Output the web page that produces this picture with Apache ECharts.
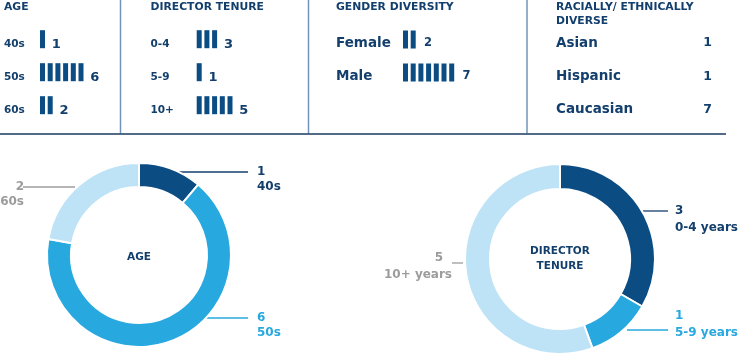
<!DOCTYPE html>
<html><head><meta charset="utf-8">
<script src="https://cdn.jsdelivr.net/npm/echarts@6/dist/echarts.min.js"></script>
<style>html,body{margin:0;padding:0;background:#fff}#c{width:740px;height:356px}</style>
</head><body><div id="c"></div>
<script>
// ---- data ----
const panelTitles = ['AGE', 'DIRECTOR TENURE', 'GENDER DIVERSITY', 'RACIALLY/ ETHNICALLY\nDIVERSE'];
const ageCats = ['40s', '50s', '60s'];
const ageValues = [1, 6, 2];
const tenureCats = ['0-4', '5-9', '10+'];
const tenureValues = [3, 1, 5];
const tenureLabels = ['0-4 years', '5-9 years', '10+ years'];
const genderCats = ['Female', 'Male'];
const genderValues = [2, 7];
const raceCats = ['Asian', 'Hispanic', 'Caucasian'];
const raceValues = [1, 1, 7];
const donutTitles = ['AGE', 'DIRECTOR\nTENURE'];

// ---- styles ----
const FONT = 'DejaVu Sans';
const NAVY = '#0b4c83';
const TEXT = '#133f6c';
const MID = '#27a8df';
const LIGHT = '#bee3f6';
const GRAY = '#9c9c9c';
const sliceColors = [NAVY, MID, LIGHT];
const labelColors = [TEXT, MID, GRAY];

const UNIT = 7.7, MAXU = 10;

const grids = [
  { left: 38.65, top: 28, width: UNIT * MAXU, height: 99 },
  { left: 195.35, top: 28, width: UNIT * MAXU, height: 99 },
  { left: 401.65, top: 26.5, width: UNIT * MAXU, height: 66 },
  { left: 556, top: 26.5, width: 156, height: 100 }
];
const labelLefts = [4, 150.5, 336, 556];

function catAxis(gi, cats, fs, extra) {
  return Object.assign({
    type: 'category', gridIndex: gi, data: cats, inverse: true,
    axisLine: { show: false }, axisTick: { show: false }, splitLine: { show: false },
    axisLabel: { align: 'left', margin: grids[gi].left - labelLefts[gi], fontFamily: FONT, fontWeight: 'bold', fontSize: fs, color: TEXT }
  }, extra || {});
}
function valAxis(gi) {
  return { type: 'value', gridIndex: gi, min: 0, max: MAXU, show: false };
}
function tally(gi, vals, offY, fs, dist) {
  return {
    type: 'pictorialBar', xAxisIndex: gi, yAxisIndex: gi, silent: true, animation: false,
    symbol: 'rect', symbolSize: [5, 18], symbolOffset: [0, offY], symbolMargin: '0!',
    symbolPosition: 'start', barCategoryGap: '0%',
    itemStyle: { color: NAVY },
    data: vals.map(v => ({ value: v, symbolRepeat: v, symbolBoundingData: v })),
    label: { show: true, position: 'right', distance: dist, fontFamily: FONT, fontWeight: 'bold', fontSize: fs, color: TEXT }
  };
}

function donut(center, radius, names, vals, layoutFn, fs, lh, firstPad) {
  return {
    type: 'pie', center: center, radius: radius, startAngle: 90, clockwise: true,
    silent: true, animation: false, emphasis: { disabled: true },
    itemStyle: { borderColor: '#fff', borderWidth: 2 },
    data: names.map((n, i) => ({
      name: n, value: vals[i],
      itemStyle: { color: sliceColors[i] },
      label: { color: labelColors[i], rich: { v: { fontFamily: FONT, fontWeight: 'bold', fontSize: fs, lineHeight: lh, color: labelColors[i], padding: firstPad[i] }, n: { fontFamily: FONT, fontWeight: 'bold', fontSize: fs, lineHeight: lh, color: labelColors[i] } } },
      labelLine: { lineStyle: { color: labelColors[i] } }
    })),
    label: { show: true, position: 'outside', overflow: 'none', formatter: '{v|{c}}\n{n|{b}}' },
    labelLine: { show: true, lineStyle: { width: 1.3 } },
    labelLayout: layoutFn
  };
}

// label anchor geometry relative to donut centre: [startDx, startDy, endDx, textDx, firstLineDy, align]
const ageC = [139, 255];
const ageAnch = [
  [38, -83, 109, 118, -83, 'left'],
  [64, 63, 109, 118, 63, 'left'],
  [-64, -68, -116, -115, -68, 'right']
];
const tenC = [560, 259];
const tenAnch = [
  [83, -48, 108, 115, -48, 'left'],
  [67, 71, 108, 115, 57, 'left'],
  [-97, 4, -108, -108, -1, 'right']
];
function mkLayout(c, anch, lh) {
  return function (p) {
    const a = anch[p.dataIndex];
    const sx = c[0] + a[0], sy = c[1] + a[1], ex = c[0] + a[2];
    return {
      x: c[0] + a[3], y: c[1] + a[4] - lh / 2, align: a[5], verticalAlign: 'top',
      labelLinePoints: [[sx, sy], [ex, sy], [ex, sy]]
    };
  };
}

const option = {
  animation: false,
  title: panelTitles.map((t, i) => ({
    text: t, left: labelLefts[i], top: 0.5, padding: 0,
    textStyle: { fontFamily: FONT, fontWeight: 'bold', fontSize: 10.8, lineHeight: 13.5, color: TEXT }
  })),
  grid: grids,
  xAxis: [valAxis(0), valAxis(1), valAxis(2), valAxis(3)],
  yAxis: [
    catAxis(0, ageCats, 10.5),
    catAxis(1, tenureCats, 10.5),
    catAxis(2, genderCats, 13.5),
    catAxis(3, raceCats, 13.5),
    catAxis(3, raceCats, 12.5, { position: 'right', axisLabel: { align: 'right', margin: 0, fontFamily: FONT, fontWeight: 'bold', fontSize: 12.5, color: TEXT, formatter: (v, i) => String(raceValues[i]) } })
  ],
  series: [
    tally(0, ageValues, -5.3, 13, 5.5),
    tally(1, tenureValues, -5.3, 13, 5.5),
    tally(2, genderValues, -3.5, 11.5, 7),
    donut(ageC, [68, 92], ageCats, ageValues, mkLayout(ageC, ageAnch, 15), 12, 15, [[0, 0, 0, 0], [0, 0, 0, 0], [0, 0, 0, 0]]),
    donut(tenC, [70, 95], tenureLabels, tenureValues, mkLayout(tenC, tenAnch, 16.5), 12, 16.5, [[0, 0, 0, 0], [0, 0, 0, 0], [0, 9, 0, 0]])
  ],
  graphic: [
    { type: 'line', shape: { x1: 120.5, y1: 0, x2: 120.5, y2: 133.5 }, style: { stroke: '#6f94b9', lineWidth: 1.5 } },
    { type: 'line', shape: { x1: 308.5, y1: 0, x2: 308.5, y2: 133.5 }, style: { stroke: '#6f94b9', lineWidth: 1.5 } },
    { type: 'line', shape: { x1: 527, y1: 0, x2: 527, y2: 133.5 }, style: { stroke: '#6f94b9', lineWidth: 1.5 } },
    { type: 'line', shape: { x1: 0, y1: 134, x2: 726, y2: 134 }, style: { stroke: '#1b3a60', lineWidth: 1.5 } },
    { type: 'text', x: ageC[0], y: ageC[1] + 2, style: { text: donutTitles[0], align: 'center', verticalAlign: 'middle', fontFamily: FONT, fontWeight: 'bold', fontSize: 10.5, lineHeight: 15, fill: TEXT } },
    { type: 'text', x: tenC[0], y: tenC[1], style: { text: donutTitles[1], align: 'center', verticalAlign: 'middle', fontFamily: FONT, fontWeight: 'bold', fontSize: 10.5, lineHeight: 15, fill: TEXT } }
  ]
};

const chart = echarts.init(document.getElementById('c'), null, { renderer: 'canvas' });
chart.setOption(option);
</script>
</body></html>
